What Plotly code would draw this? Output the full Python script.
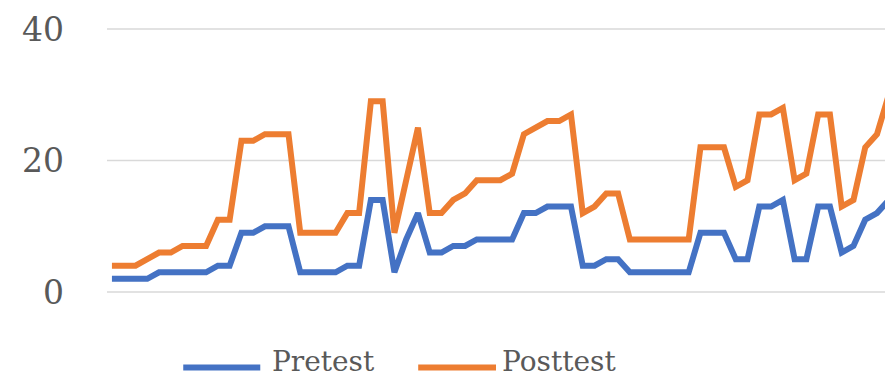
import plotly.graph_objects as go

# Item number for each score pair
items = list(range(1, 68))

pretest = [2, 2, 2, 2, 3, 3, 3, 3, 3, 4, 4, 9, 9, 10, 10, 10, 3, 3, 3, 3,
           4, 4, 14, 14, 3, 8, 12, 6, 6, 7, 7, 8, 8, 8, 8, 12, 12, 13, 13, 13,
           4, 4, 5, 5, 3, 3, 3, 3, 3, 3, 9, 9, 9, 5, 5, 13, 13, 14, 5, 5,
           13, 13, 6, 7, 11, 12, 14]

posttest = [4, 4, 4, 5, 6, 6, 7, 7, 7, 11, 11, 23, 23, 24, 24, 24, 9, 9, 9, 9,
            12, 12, 29, 29, 9, 17, 25, 12, 12, 14, 15, 17, 17, 17, 18, 24, 25, 26, 26, 27,
            12, 13, 15, 15, 8, 8, 8, 8, 8, 8, 22, 22, 22, 16, 17, 27, 27, 28, 17, 18,
            27, 27, 13, 14, 22, 24, 30]

series_names = ["Pretest", "Posttest"]
series_colors = ["#4472C4", "#ED7D31"]
y_ticks = [0, 20, 40]

FONT = "DejaVu Serif"
TEXT_COLOR = "#595959"
GRID_COLOR = "#D9D9D9"

fig = go.Figure()
for name, vals, color in zip(series_names, [pretest, posttest], series_colors):
    fig.add_trace(go.Scatter(
        x=items, y=vals, mode="lines", name=name,
        line=dict(color=color, width=6),
        showlegend=False,
    ))

# Horizontal gridlines at each tick, including the plot edges
for t in y_ticks:
    fig.add_shape(type="line", xref="paper", yref="y", x0=0, x1=1,
                  y0=t, y1=t, layer="below",
                  line=dict(color=GRID_COLOR, width=1.3))

# Legend drawn below the plot: a short line sample followed by the label
legend_pos = [(0.098, 0.197, 0.209), (0.400, 0.500, 0.505)]
for (x0, x1, xt), name, color in zip(legend_pos, series_names, series_colors):
    fig.add_shape(type="line", xref="paper", yref="paper",
                  x0=x0, x1=x1, y0=-0.281, y1=-0.281,
                  line=dict(color=color, width=6))
    fig.add_annotation(xref="paper", yref="paper", x=xt, y=-0.258,
                       xanchor="left", yanchor="middle", text=name,
                       showarrow=False,
                       font=dict(family=FONT, size=28, color=TEXT_COLOR))

fig.update_layout(
    width=885, height=378,
    margin=dict(l=107, r=0, t=28, b=85),
    paper_bgcolor="white", plot_bgcolor="white",
    xaxis=dict(range=[0.58, 66.68], showticklabels=False, showgrid=False,
               zeroline=False, showline=False),
    yaxis=dict(range=[-0.15, 40.15], tickvals=y_ticks, showgrid=False,
               zeroline=False, showline=False, ticklabelstandoff=42,
               tickfont=dict(family=FONT, size=33, color=TEXT_COLOR)),
)

fig.write_html("out.html")
